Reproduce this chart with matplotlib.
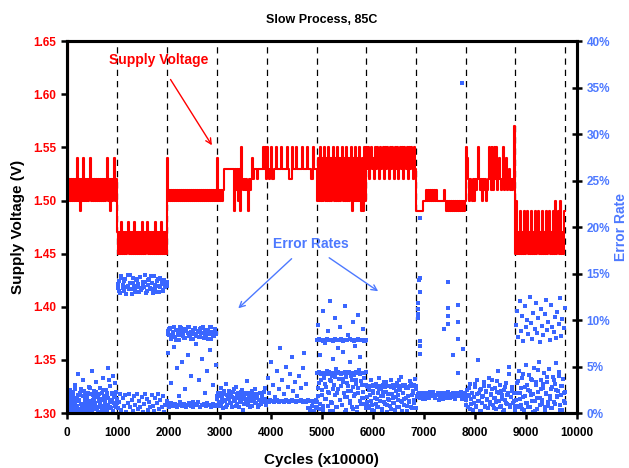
import numpy as np
import matplotlib
matplotlib.use("Agg")
import matplotlib.pyplot as plt

plt.rcParams['font.family'] = ['Liberation Sans', 'DejaVu Sans']
plt.rcParams['font.weight'] = 'bold'

RED = '#FF0000'
BLUE = '#3A66FF'
BLUE_TXT = '#4D79FF'

# segment boundaries (cycles x10000), dashed lines drawn at bounds[1:]
bounds = [0, 985, 1965, 2940, 3915, 4895, 5870, 6850, 7820, 8795, 9775]

# supply voltage per segment, in hundredths of a volt
v1 = [165,150,152,150,152,150,152,150,152,150,154,150,152,149,152,150,154,150,152,150,152,150,152,154,150,
      152,150,152,150,152,150,152,150,152,150,152,150,152,150,152,154,150,152,149,152,150,152,154,150,152]
v2 = [147,145,147,145,148,145,147,145,147,145,147,148,145,147,145,147,145,148,145,147,145,147,145,147,145,
      148,145,147,145,147,148,145,147,145,147,145,147,145,148,145,147,145,147,145,148,145,147,145,147,145]
v3 = [154,150,151,150,151,150,151,150,151,150,151,150,151,150,151,150,151,150,151,150,151,150,151,150,151,
      150,151,150,151,150,151,150,151,150,151,150,151,150,151,150,151,150,151,150,151,150,151,150,151,150]
v4 = [154,150,151,150,151,150,151,153,153,153,153,153,153,153,153,153,153,149,153,151,153,150,153,149,155,
      152,151,152,151,152,151,149,152,151,152,154,152,153,153,153,152,153,153,153,153,153,155,153,155,152]
v5 = [155,153,152,153,155,152,152,153,153,155,153,153,153,153,155,153,153,153,153,153,155,153,152,152,152,
      155,153,153,153,155,153,153,153,153,153,155,153,153,153,153,155,153,153,153,152,152,155,153,153,153]
v6 = [150,154,150,155,150,154,150,154,155,150,154,150,155,150,154,150,154,155,150,154,150,155,150,154,150,
      154,155,150,154,150,155,150,154,150,154,155,149,154,150,155,150,154,150,155,150,149,154,149,155,150]
v7 = [155,153,155,152,154,155,153,154,152,155,153,155,154,152,155,153,154,155,152,155,153,155,154,152,155,
      153,155,154,152,155,153,155,152,154,155,153,155,152,155,154,153,155,152,155,153,155,154,152,155,153]
v8 = [149,149,149,149,149,149,149,150,150,150,151,150,151,150,151,150,151,150,151,150,151,150,150,150,150,
      150,150,150,151,150,149,150,149,150,149,150,149,150,149,150,149,150,149,150,149,150,149,150,149,150]
v9 = [155,154,152,150,152,151,150,152,150,152,151,152,155,152,151,152,150,152,151,152,150,151,152,155,152,
      151,155,152,151,155,152,155,151,152,154,152,151,152,155,151,152,154,151,152,153,151,152,151,152,157]
v10 = [145,150,145,147,145,149,145,147,145,149,145,147,149,145,147,145,149,145,147,145,149,145,147,149,145,
       147,145,149,145,147,145,149,145,147,149,145,147,145,149,145,150,145,147,149,145,150,145,147,145,149]
volts = [v1, v2, v3, v4, v5, v6, v7, v8, v9, v10]

# error rates per segment, in tenths of a percent
e1 = [12,3,18,7,25,1,14,9,21,5,30,11,2,16,8,42,13,4,19,26,6,10,35,1,15,22,8,3,17,12,28,5,20,9,45,
      2,14,24,7,11,33,4,18,1,13,27,9,6,22,15,38,3,16,10,25,2,19,48,7,12,29,5,21,14,1,17,32,8,23,11]
e1b = [8,20,4,15,11,23,2,17,9,26,13,6,19,1,14,22,10,3,18,7,24,12,5,16,21,9,2,27,13,8,
       19,4,15,11,23,6,17,1,20,10,14,3,25,8,18,12,5,22,16,9,36,7,13,20,2,40,11,18,6,15]
e2_hi = [135,142,129,147,138,131,144,136,149,133,140,128,145,137,132,143,139,130,146,134,
         141,136,148,131,138,144,133,140,129,147,135,142,137,130,145,139,132,143,136,141]
e2_hi2 = [139,131,145,134,142,128,137,148,133,140,130,144,136,146,132,139,141,129,143,135,
          147,133,138,130,144,136,142,131,140,137]
e2_lo = [5,12,20,3,16,8,19,1,11,20,6,14,2,18,9,20,4,13,7,17,1,10,20,15,3,12,6,19,8,2,
         16,11,20,4,14,7,18,1,9,13]
e3_hi = [88,84,91,80,86,93,82,89,85,79,92,87,83,90,81,88,86,92,84,80,89,85,91,83,87,82,90,86,93,81,
         88,84,89,85,92,80,87,83,90,86]
e3_hi2 = [85,90,82,87,92,79,88,84,91,86,81,89,93,83,87,80,90,85,88,82,91,86,84,89,80,87,92,83,88,85]
e3_mid = [65,32,71,48,18,55,26,62,40,12,74,35,58,22,45,68,30,52]
e3_lo = [9,7,11,8,10,6,9,12,8,10,7,9,11,8,6,10,9,12,7,9,10,8,11,9,7,10,8,9]
e4 = [15,22,8,18,27,12,5,20,14,31,9,17,24,11,19,6,23,13,16,28,10,21,7,18,14,25,3,16,20,12,
      34,9,17,22,13,8,19,15,26,11,18,6,14,21,10,17,12,23,15,9]
e4b = [18,12,21,9,16,24,13,7,19,15,22,11,17,26,14,8,20,16,12,23,18,10,15,21,13,
       19,6,17,24,14,11,20,16,9,22,13,18,15,27,12]
e5_line = [13,12,14,13,12,13,14,12,13,13,12,14,13,12,13,14,13,12,13,13,14,12,13,12,14,13,13,12,13,14]
e5_scat = [38,22,55,30,17,45,26,70,35,20,50,28,42,60,24,33,18,40,27,48,65,31,5,3,8,2,6]
e6_lo = [5,18,32,10,42,25,3,38,15,28,45,8,21,35,12,40,2,30,19,47,6,26,37,14,43,9,33,22,1,39,
         17,29,44,11,24,36,4,41,20,31,7,27,46,13,34,16,23,38,10,30]
e6_lo2 = [12,27,4,36,19,8,31,15,42,23,2,34,11,26,39,6,21,44,14,29,9,37,17,3,32,
          24,13,40,7,28,18,35,1,22,45,10,30,16,38,5]
e6_l79 = [79,80,79,78,79,80,79,79,78,80,79,79,80,78,79,79,80,79,78,79,80,79,79,78,79]
e6_l43 = [43,44,43,42,43,43,44,42,43,43,44,43,42,43,44,43,43,42,43,44,43,42,43,43,44]
e6_scat = [95,62,110,75,88,120,58,102,70,92,66,115,84,55,98,72,105,60,90,78]
e7 = [12,28,5,19,35,9,24,2,16,31,7,21,38,13,26,4,18,33,10,23,1,15,29,8,36,
      20,11,27,3,17,32,14,6,25,39,12,22,9,30,16,2,27,13,34,7,19,24,11,37,5]
e7b = [17,8,25,13,3,21,30,10,15,6,26,18,1,23,12,33,9,20,14,4,28,16,11,24,7,
       19,35,13,2,22,15,27,8,18,12,31,5,21,14,26]
e7_line = [29,28,29,30,29,28,29,29,30,28,29,29,28,30,29,29,28,29,30,29,28,29,29,30,29]
e8_band = [18,20,16,22,19,15,21,17,23,18,20,16,19,22,17,21,15,18,20,23,16,19,21,17,22,18,20,15,19,21]
e8_band2 = [17,21,19,15,22,18,16,20,23,17,19,14,21,18,22,16,20,17,19,15,21,18,23,16,20]
e9 = [14,25,6,19,31,10,22,3,17,28,8,35,13,21,2,26,11,18,33,7,24,15,5,29,12,
      20,36,9,16,27,4,23,45,13,30,8,19,1,25,14,32,10,21,50,6,17,28,11,22,3]
e9b = [9,18,27,4,15,22,11,31,6,20,13,25,2,17,29,8,23,14,38,10,19,26,5,16,12,
       34,21,7,24,15,3,28,11,19,42,9,17,24,13,6]
e10_hi = [95,110,82,120,88,104,78,115,92,100,85,125,97,80,108,90,118,86,102,76,
          112,94,84,106,122,89,98,79,116,93,87,103,81,109,96,124,83,101,91,113]
e10_lo = [14,32,6,45,22,9,38,17,3,28,52,11,25,41,7,19,35,1,48,13,30,4,23,55,16,
          36,10,27,43,2,20,33,8,47,15,26,5,39,12,31,54,18,24,40,9,29,3,37,21,11]
e10_lo2 = [21,8,34,15,27,4,42,18,11,30,6,24,37,13,20,2,33,16,46,9,26,14,31,7,22,
           39,12,18,5,28,35,10,25,17,44,3,19,29,13,23]

# sparse points outside the bands (cycles, percent)
out_x = [6908, 6922, 6895, 6895, 6895, 6895, 6922, 6922, 6922, 6920, 6920,
         7477, 7464, 7464, 7464, 7392, 7667, 7667, 7667, 7569, 7765, 7667, 8065, 7740]
out_y = [14.3, 13.0, 11.8, 11.2, 10.6, 10.2, 7.7, 7.2, 6.3, 21.0, 14.5,
         14.1, 11.3, 10.4, 9.6, 9.0, 11.6, 9.8, 8.0, 6.2, 6.9, 4.3, 5.7, 35.5]

dense_sets = [
    (0, e1), (0, e1b), (1, e2_hi), (1, e2_hi2), (1, e2_lo), (2, e3_hi), (2, e3_hi2), (2, e3_lo),
    (3, e4), (3, e4b), (4, e5_line), (5, e6_lo), (5, e6_lo2), (5, e6_l79), (5, e6_l43),
    (6, e7), (6, e7b), (6, e7_line), (7, e8_band), (7, e8_band2), (8, e9), (8, e9b),
    (9, e10_hi), (9, e10_lo), (9, e10_lo2),
]
sparse_sets = [(2, e3_mid), (4, e5_scat), (5, e6_scat)]

fig = plt.figure(figsize=(6.29, 4.68), dpi=100)
ax = fig.add_axes([0.1065, 0.1175, 0.8105, 0.7945])
ax2 = ax.twinx()

# voltage step line
xs, ys = [], []
for i, v in enumerate(volts):
    xs.extend(np.linspace(bounds[i], bounds[i + 1], len(v), endpoint=False))
    ys.extend(np.array(v) / 100.0)
xs.append(bounds[-1])
ys.append(volts[-1][-1] / 100.0)
ax.plot(xs, ys, color=RED, lw=1.5, drawstyle='steps-post', zorder=3)

# error rates
for seg, vals in dense_sets:
    px = np.linspace(bounds[seg] + 10, bounds[seg + 1] - 10, len(vals))
    ax2.plot(px, np.array(vals) / 10.0, 's', color=BLUE, ms=2.8, mew=0, zorder=2)
for seg, vals in sparse_sets:
    px = np.linspace(bounds[seg] + 20, bounds[seg + 1] - 20, len(vals))
    ax2.plot(px, np.array(vals) / 10.0, 's', color=BLUE, ms=2.2, mew=0, zorder=2)
ax2.plot(out_x, out_y, 's', color=BLUE, ms=2.2, mew=0)

for b in bounds[1:]:
    ax.axvline(b, color='black', lw=0.9, dashes=(5, 4), zorder=1)

ax.set_xlim(0, 10000)
ax.set_ylim(1.30, 1.65)
ax2.set_ylim(0, 40)
ax.set_xticks(range(0, 10001, 1000))
ax.set_yticks(np.arange(1.30, 1.651, 0.05))
ax.set_yticklabels(['%.2f' % t for t in np.arange(1.30, 1.651, 0.05)])
ax2.set_yticks(range(0, 41, 5))
ax2.set_yticklabels(['%d%%' % t for t in range(0, 41, 5)])

for a in (ax, ax2):
    for s in a.spines.values():
        s.set_linewidth(2.2)
ax.tick_params(axis='x', direction='out', width=1.8, length=4, labelsize=8.5, pad=6)
ax.tick_params(axis='y', direction='out', width=1.8, length=4, labelsize=8.5, labelcolor=RED)
ax2.tick_params(axis='y', direction='inout', width=1.8, length=7, labelsize=8.5, labelcolor=BLUE_TXT)

ax.set_title('Slow Process, 85C', fontsize=9, fontweight='bold', pad=13)
ax.set_xlabel('Cycles (x10000)', fontsize=11, fontweight='bold', labelpad=10)
ax.set_ylabel('Supply Voltage (V)', fontsize=11, fontweight='bold', labelpad=6)
fig.text(621 / 629, 1 - 227 / 468, 'Error Rate', rotation=90, ha='center', va='center',
         fontsize=10, fontweight='bold', color=BLUE_TXT)

ax.annotate('Supply Voltage', xy=(2843, 1.552), xytext=(1794, 1.632),
            color=RED, fontsize=10, fontweight='bold', ha='center', va='center',
            arrowprops=dict(arrowstyle='->', color=RED, lw=1, shrinkA=8, shrinkB=0))
ax2.text(4784, 18.2, 'Error Rates', color=BLUE_TXT, fontsize=10, fontweight='bold',
         ha='center', va='center')
ax2.annotate('', xy=(3359, 11.26), xytext=(4406, 16.6),
             arrowprops=dict(arrowstyle='->', color=BLUE_TXT, lw=1, shrinkA=0, shrinkB=0))
ax2.annotate('', xy=(6104, 13.1), xytext=(5143, 16.7),
             arrowprops=dict(arrowstyle='->', color=BLUE_TXT, lw=1, shrinkA=0, shrinkB=0))

fig.savefig('out.png', dpi=100)
